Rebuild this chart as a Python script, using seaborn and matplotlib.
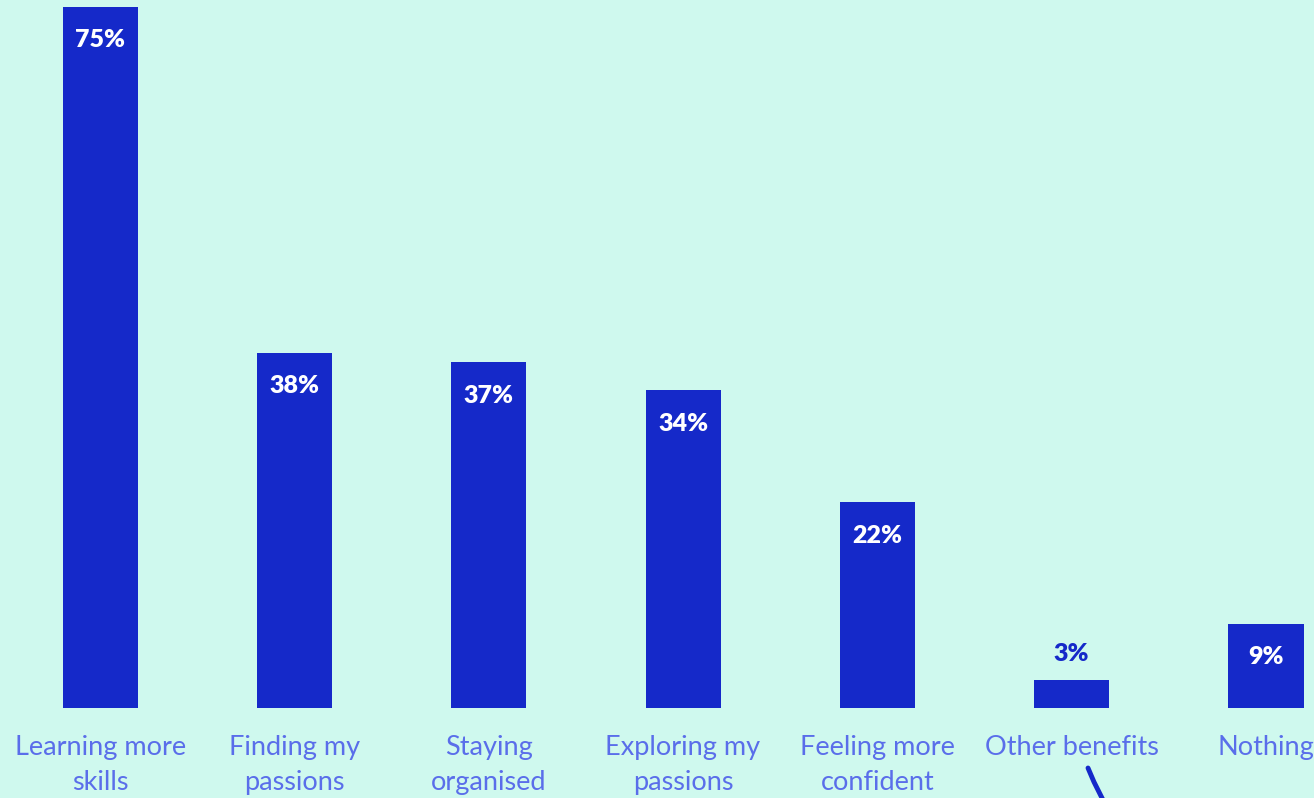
import matplotlib
matplotlib.use("Agg")
import matplotlib.pyplot as plt
import seaborn as sns
import pandas as pd
from matplotlib.lines import Line2D

categories = ["Learning more\nskills", "Finding my\npassions", "Staying\norganised",
              "Exploring my\npassions", "Feeling more\nconfident", "Other benefits", "Nothing"]
values = [75, 38, 37, 34, 22, 3, 9]

BG = "#CFF9EE"
BAR = "#1529C9"
TICK = "#5A6EEA"

sns.set_theme(style="white")
plt.rcParams["font.family"] = ["Lato", "DejaVu Sans"]

df = pd.DataFrame({"benefit": categories, "share": values})

fig = plt.figure(figsize=(13.14, 7.98), dpi=100, facecolor=BG)
ax = fig.add_axes([0, 0.1128, 1, 0.8872])
ax.set_facecolor(BG)

sns.barplot(data=df, x="benefit", y="share", color=BAR, saturation=1,
            width=0.386, linewidth=0, ax=ax)

ax.set_xlim(-0.515, 6.247)
ax.set_ylim(0, 75.75)
for s in ax.spines.values():
    s.set_visible(False)
ax.set_yticks([])
ax.set_xlabel("")
ax.set_ylabel("")
ax.tick_params(axis="x", length=0, pad=19.5, labelsize=19.5, labelcolor=TICK)
for lbl in ax.get_xticklabels():
    lbl.set_linespacing(1.48)

for i, v in enumerate(values):
    if v >= 6:
        ax.annotate(f"{v}%", (i, v), xytext=(0, -24), textcoords="offset points",
                    ha="center", va="center", color="white", fontsize=18,
                    fontweight="heavy")
    else:
        ax.annotate(f"{v}%", (i, v), xytext=(0, 18.5), textcoords="offset points",
                    ha="center", va="center", color=BAR, fontsize=18,
                    fontweight="heavy")

# pen stroke below the "Other benefits" label
W, H = 1314, 798
fig.add_artist(Line2D([1088 / W, 1094 / W, 1103 / W],
                      [1 - 768 / H, 1 - 782 / H, 1 - 800 / H],
                      transform=fig.transFigure, color=BAR, lw=3.5,
                      solid_capstyle="round"))

fig.savefig("out.png", dpi=100, facecolor=BG)
